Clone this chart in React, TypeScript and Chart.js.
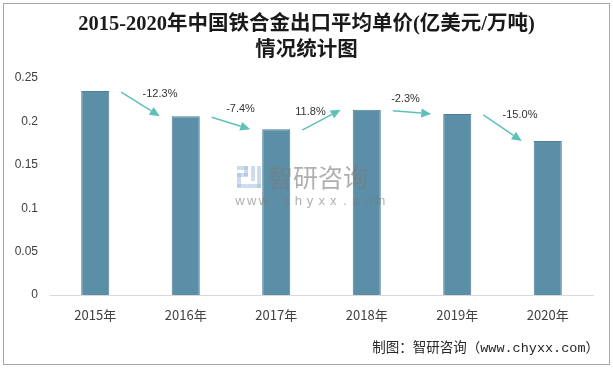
import React, { useEffect, useRef } from "react";
import { Chart, registerables } from "chart.js";

Chart.register(...registerables);

const categories = ["2015年", "2016年", "2017年", "2018年", "2019年", "2020年"];
const values = [0.235, 0.206, 0.191, 0.2135, 0.2086, 0.1773];
const growthLabels = ["-12.3%", "-7.4%", "11.8%", "-2.3%", "-15.0%"];
const yMin = 0;
const yMax = 0.25;
const yStep = 0.05;

const titleLines = ["2015-2020年中国铁合金出口平均单价(亿美元/万吨)", "情况统计图"];
const sourceText = "制图：智研咨询（www.chyxx.com）";

// styling constants (pixel offsets for growth labels relative to arrow middle)
const labelOffsets: [number, number][] = [
  [19.5, -9.5],
  [9.5, -14],
  [-11, -7],
  [-6.5, -13],
  [17.5, -13],
];

const BAR_COLOR = "#5B8FA7";
const ARROW_COLOR = "#5FC0B8";
const CJK = '"Noto Sans CJK SC", "Liberation Sans", sans-serif';

const decorPlugin = {
  id: "decor",
  beforeDraw(chart: any) {
    const ctx = chart.ctx;
    ctx.save();
    ctx.fillStyle = "#ffffff";
    ctx.fillRect(0, 0, chart.width, chart.height);
    // frame
    ctx.strokeStyle = "#a6a6a6";
    ctx.lineWidth = 1;
    ctx.strokeRect(3.5, 3.5, chart.width - 7, chart.height - 7);
    // title
    ctx.fillStyle = "#1a1a1a";
    ctx.textAlign = "center";
    ctx.textBaseline = "middle";
    ctx.font = 'bold 20.5px "Liberation Serif", "Noto Sans CJK SC", serif';
    ctx.fillText(titleLines[0], chart.width / 2, 25);
    ctx.fillText(titleLines[1], chart.width / 2, 51);
    // source
    ctx.font = '13.5px "Liberation Mono", "Noto Sans CJK SC", monospace';
    ctx.textAlign = "right";
    ctx.fillStyle = "#262626";
    ctx.fillText(sourceText, 599, 348);
    ctx.restore();
  },
  afterDatasetsDraw(chart: any) {
    const ctx = chart.ctx;
    const meta = chart.getDatasetMeta(0);
    ctx.save();
    // arrows and labels
    for (let i = 0; i < growthLabels.length; i++) {
      const a = meta.data[i];
      const b = meta.data[i + 1];
      const x1 = a.x + 26;
      const y1 = a.y + 1;
      const x2 = b.x - 26;
      const y2 = b.y;
      const ang = Math.atan2(y2 - y1, x2 - x1);
      const head = 10;
      const hw = 4.5;
      const bx = x2 - head * Math.cos(ang);
      const by = y2 - head * Math.sin(ang);
      ctx.strokeStyle = ARROW_COLOR;
      ctx.fillStyle = ARROW_COLOR;
      ctx.lineWidth = 1.5;
      ctx.beginPath();
      ctx.moveTo(x1, y1);
      ctx.lineTo(bx, by);
      ctx.stroke();
      ctx.beginPath();
      ctx.moveTo(x2, y2);
      ctx.lineTo(bx + hw * Math.sin(ang), by - hw * Math.cos(ang));
      ctx.lineTo(bx - hw * Math.sin(ang), by + hw * Math.cos(ang));
      ctx.closePath();
      ctx.fill();
      const mx = (a.x + b.x) / 2 + labelOffsets[i][0];
      const my = (a.y + b.y) / 2 + labelOffsets[i][1];
      ctx.fillStyle = "#333333";
      ctx.font = '11px "Liberation Sans", sans-serif';
      ctx.textAlign = "center";
      ctx.textBaseline = "middle";
      ctx.fillText(growthLabels[i], mx, my);
    }
    // watermark
    ctx.globalAlpha = 0.5;
    ctx.fillStyle = "#9dbbdd";
    const lx = 237;
    const ly = 166;
    ctx.fillRect(lx, ly, 11, 4);
    ctx.fillRect(lx + 7, ly, 4, 10);
    ctx.fillRect(lx, ly + 7, 11, 4);
    ctx.fillRect(lx, ly + 7, 4, 14);
    ctx.fillRect(lx, ly + 18, 24, 4);
    ctx.fillRect(lx + 14, ly, 4, 15);
    ctx.fillRect(lx + 20, ly, 4, 22);
    ctx.globalAlpha = 0.6;
    ctx.fillStyle = "#7a7a7a";
    ctx.font = '25px "Noto Sans CJK SC", sans-serif';
    ctx.textAlign = "left";
    ctx.textBaseline = "middle";
    ctx.fillText("智研咨询", 268, 177);
    ctx.font = '13px "Liberation Sans", sans-serif';
    const w = "www.chyxx.com".split("");
    const step = 140 / (w.length - 1);
    ctx.textAlign = "center";
    w.forEach((ch, k) => ctx.fillText(ch, 240 + k * step, 201));
    ctx.restore();
  },
};

export default function App() {
  const ref = useRef<HTMLCanvasElement | null>(null);
  useEffect(() => {
    if (!ref.current) return;
    const chart = new Chart(ref.current, {
      type: "bar",
      data: {
        labels: categories,
        datasets: [
          {
            data: values,
            backgroundColor: BAR_COLOR,
            borderColor: "#4F7F96",
            borderWidth: 1,
            categoryPercentage: 1,
            barPercentage: 0.31,
          },
        ],
      },
      options: {
        animation: false,
        responsive: false,
        devicePixelRatio: 1,
        layout: { padding: { top: 78, right: 20, left: 0, bottom: 0 } },
        plugins: {
          legend: { display: false },
          title: { display: false },
          tooltip: { enabled: false },
        },
        scales: {
          x: {
            grid: { display: false, drawTicks: false },
            border: { display: true, color: "#d9d9d9", width: 1 },
            ticks: {
              color: "#404040",
              font: { family: CJK, size: 13 },
              padding: 12,
              maxRotation: 0,
            },
            afterFit(scale: any) {
              scale.height = 73;
            },
          },
          y: {
            min: yMin,
            max: yMax,
            grid: { display: false, drawTicks: false },
            border: { display: false },
            ticks: {
              stepSize: yStep,
              color: "#404040",
              font: { family: '"Liberation Sans", sans-serif', size: 12 },
              padding: 12,
              callback: (v: any) => String(Number(Number(v).toFixed(2))),
            },
            afterFit(scale: any) {
              scale.width = 50;
            },
          },
        },
      },
      plugins: [decorPlugin],
    });
    return () => chart.destroy();
  }, []);
  return (
    <div style={{ position: "fixed", left: 0, top: 0, width: 613, height: 368 }}>
      <canvas ref={ref} width={613} height={368} style={{ width: 613, height: 368, display: "block" }} />
    </div>
  );
}
